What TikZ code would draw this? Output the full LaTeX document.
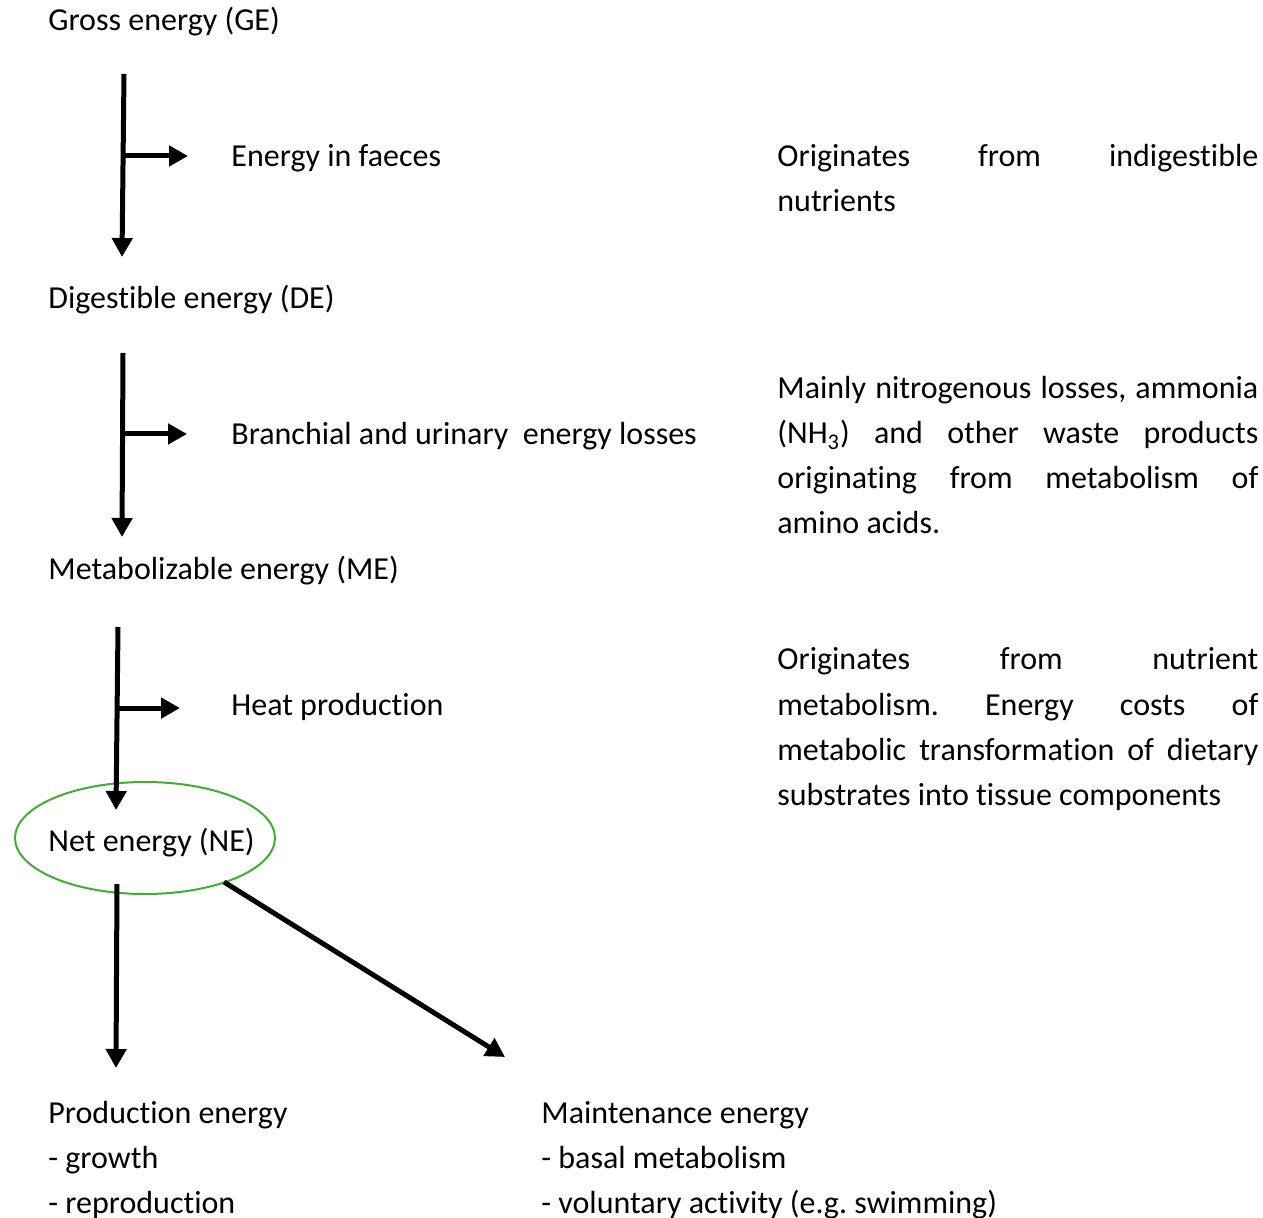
\documentclass[tikz,border=0pt]{standalone}
\usepackage{fontspec}
\setmainfont{Carlito}[Ligatures=NoCommon]
\usetikzlibrary{arrows.meta,calc}
\definecolor{ringgreen}{HTML}{44AA38}
\frenchspacing

\begin{document}
\begin{tikzpicture}[x=0.5pt,y=-0.5pt,
  font=\fontsize{16}{22.5}\selectfont,
  lbl/.style={anchor=base west,inner sep=0pt},
  note/.style={anchor=base west,inner sep=0pt,text width=240.5pt,align=justify},
  ring/.style={draw=ringgreen,line width=1pt},
  flow/.style={line width=2.5pt,-{Triangle[width=10pt,length=9.5pt]}}]
  \useasboundingbox (0,0) rectangle (1263,1218);

  % energy levels
  \node[lbl] (ge) at (48,31) {Gross energy (GE)};
  \node[lbl] (de) at (48,309) {Digestible energy (DE)};
  \node[lbl] (me) at (48,580) {Metabolizable energy (ME)};
  \node[lbl] (ne) at (48,851) {Net energy (NE)};
  \draw[ring] ($(ne.base west)+(97,-13)$) ellipse [x radius=130, y radius=56];

  % losses
  \node[lbl] (faeces) at (231,167) {Energy in faeces};
  \node[lbl] (urine) at (231,445) {Branchial and urinary\ \ energy losses};
  \node[lbl] (heat) at (231,716) {Heat production};

  % explanations
  \node[note] (n1) at (777,167) {Originates from indigestible\linebreak nutrients};
  \node[note] (n2) at (777,399) {Mainly nitrogenous losses, ammonia\linebreak
    (NH\textsubscript{3}) and other waste products\linebreak
    originating from metabolism of\linebreak amino acids.};
  \node[note] (n3) at (777,670) {Originates from nutrient\linebreak
    metabolism. Energy costs of\linebreak
    metabolic transformation of dietary\linebreak
    substrates into tissue components};

  % uses of net energy
  \node[lbl,align=left] (prod) at (48,1213) {Production energy\\- growth\\- reproduction};
  \node[lbl,align=left] (maint) at (541,1213) {Maintenance energy\\- basal metabolism\\- voluntary activity (e.g. swimming)};

  % arrows
  \draw[flow] ($(ge.base west)+(76,43)$) -- coordinate[pos=0.448] (b1) ($(de.base west)+(74,-52)$);
  \draw[flow,shorten >=21.5pt] (b1) -- (b1 -| faeces.west);
  \draw[flow] ($(de.base west)+(75,44)$) -- coordinate[pos=0.44] (b2) ($(me.base west)+(74,-43)$);
  \draw[flow,shorten >=22pt] (b2) -- (b2 -| urine.west);
  \draw[flow] ($(me.base west)+(70,47)$) -- coordinate[pos=0.443] (b3) ($(ne.base west)+(68,-41)$);
  \draw[flow,shorten >=25.5pt] (b3) -- (b3 -| heat.west);
  \draw[flow] ($(ne.base west)+(69,33)$) -- ($(prod.base west)+(68,-145)$);
  \draw[flow] ($(ne.base west)+(176,31)$) -- ($(maint.base west)+(-36,-156)$);
\end{tikzpicture}
\end{document}
